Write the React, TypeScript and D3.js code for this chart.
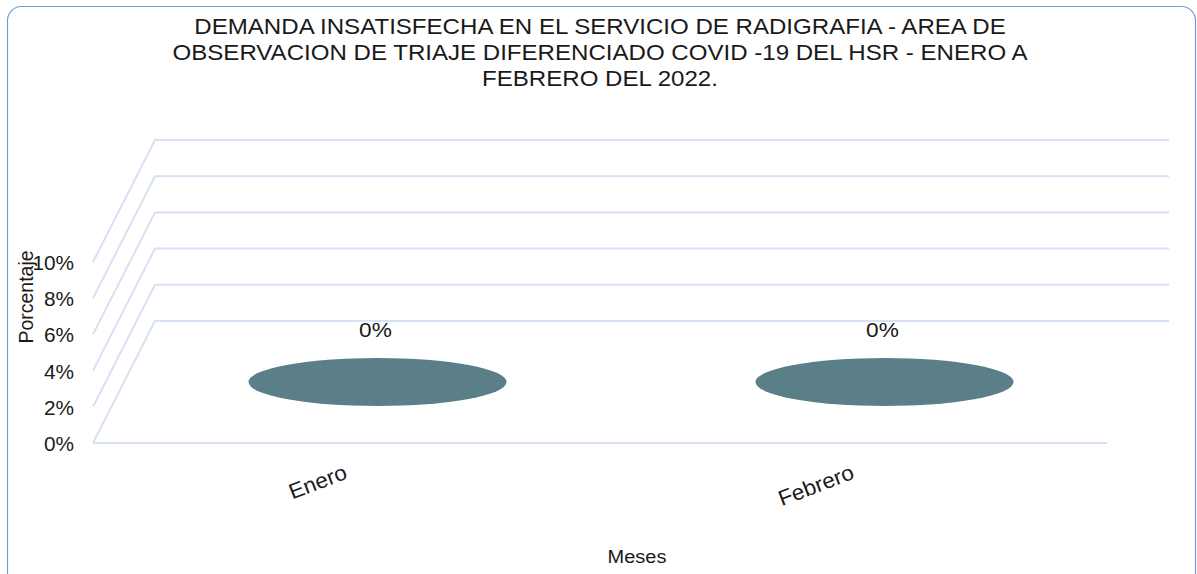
import React, { useEffect, useRef } from "react";
import * as d3 from "d3";

const categories = ["Enero", "Febrero"];
const values = [0, 0];
const yTicks = [0, 2, 4, 6, 8, 10];
const titleLines = [
  "DEMANDA INSATISFECHA EN EL SERVICIO DE RADIGRAFIA - AREA DE",
  "OBSERVACION DE TRIAJE DIFERENCIADO COVID -19 DEL HSR - ENERO A",
  "FEBRERO DEL 2022.",
];

const W = 1197;
const H = 574;
const FONT = "'Liberation Sans', Arial, sans-serif";

export default function App() {
  const ref = useRef<SVGSVGElement | null>(null);

  useEffect(() => {
    document.body.style.margin = "0";
    const svg = d3.select(ref.current);
    svg.selectAll("*").remove();

    const x = d3.scaleBand<string>().domain(categories).range([93, 1107]);
    const y = d3.scaleLinear().domain([0, 10]).range([443, 262]);
    const dx = 62;
    const dy = -122;
    const grid = "#d6e1f3";

    const txt = (
      parent: any,
      px: number,
      py: number,
      s: string,
      size: number,
      anchor: string,
      sx: number,
      extra = ""
    ) =>
      parent
        .append("text")
        .attr("transform", `translate(${px},${py}) ${extra} scale(${sx},1)`)
        .attr("text-anchor", anchor)
        .attr("font-family", FONT)
        .attr("font-size", size)
        .attr("fill", "#1a1a1a")
        .text(s);

    // border
    svg
      .append("rect")
      .attr("x", 7.5)
      .attr("y", 6.5)
      .attr("width", 1188)
      .attr("height", 590)
      .attr("rx", 14)
      .attr("fill", "#fff")
      .attr("stroke", "#6e9fd9")
      .attr("stroke-width", 1.2);

    // title
    titleLines.forEach((l, i) => {
      txt(svg, 600, 34 + i * 26, l, 22, "middle", 1.095);
    });

    const g = svg.append("g");
    // gridlines: side wall diagonals + back wall
    yTicks.forEach((v) => {
      const yf = y(v);
      g.append("path")
        .attr(
          "d",
          `M${x.range()[0]},${yf}L${x.range()[0] + dx},${yf + dy}L${x.range()[1] + dx},${yf + dy}`
        )
        .attr("fill", "none")
        .attr("stroke", grid)
        .attr("stroke-width", 2);
    });
    // floor front edge
    g.append("line")
      .attr("x1", x.range()[0])
      .attr("x2", x.range()[1])
      .attr("y1", y(0))
      .attr("y2", y(0))
      .attr("stroke", grid)
      .attr("stroke-width", 2);

    // y tick labels
    yTicks.forEach((v) => {
      txt(g, 74, y(v) + 8, `${v}%`, 20, "end", 1.04);
    });

    // y axis title
    g.append("text")
      .attr("transform", `translate(33,297) rotate(-90)`)
      .attr("text-anchor", "middle")
      .attr("font-family", FONT)
      .attr("font-size", 19.5)
      .attr("fill", "#1a1a1a")
      .text("Porcentaje");

    // cylinders (zero height -> top ellipse only)
    categories.forEach((c, i) => {
      const cx = (x(c) as number) + x.bandwidth() / 2 + dx / 2;
      const cy = y(values[i]) + dy / 2;
      g.append("ellipse")
        .attr("cx", cx)
        .attr("cy", cy)
        .attr("rx", 129)
        .attr("ry", 24)
        .attr("fill", "#5b7f88");
      txt(g, cx - 2, cy - 45, `${values[i]}%`, 21, "middle", 1.08);
    });

    // x category labels (anchored at end, like Excel rotated labels)
    categories.forEach((c) => {
      const cx = (x(c) as number) + x.bandwidth() / 2;
      txt(g, cx + 2, y(0) + 35, c, 21.5, "end", 1.05, "rotate(-21)");
    });

    // x axis title
    txt(g, 637, 563, "Meses", 18.5, "middle", 1.08);
  }, []);

  return (
    <svg
      ref={ref}
      width={W}
      height={H}
      style={{ display: "block", position: "absolute", left: 0, top: 0 }}
    />
  );
}
